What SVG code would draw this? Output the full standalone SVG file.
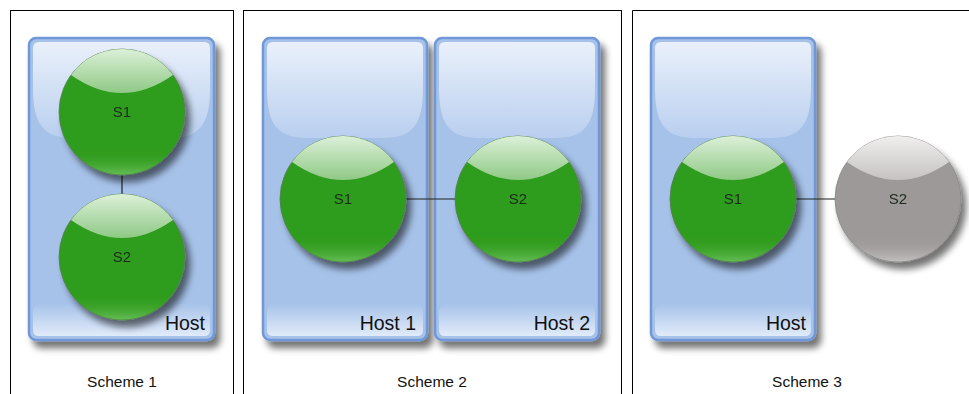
<svg xmlns="http://www.w3.org/2000/svg" xmlns:xlink="http://www.w3.org/1999/xlink" width="969" height="394" viewBox="0 0 969 394">
  <style>
    .frame { fill: none; stroke: #000; stroke-width: 1; }
    .caption { font-family: "Liberation Sans", Arial, sans-serif; font-size: 15.5px; fill: #111; text-anchor: middle; }
    .hostlabel { font-family: "Liberation Sans", Arial, sans-serif; font-size: 19.5px; fill: #111; text-anchor: end; }
    .slabel { font-family: "Liberation Sans", Arial, sans-serif; font-size: 15px; fill: #1e2a1c; text-anchor: middle; }
    .link { stroke: #222; stroke-width: 1.2; fill: none; }
    .hostbody { fill: #a6c2e9; stroke: #6f98d8; stroke-width: 2.5; }
  </style>
  <defs>
    <filter id="shadow" x="-20%" y="-20%" width="150%" height="150%">
      <feGaussianBlur in="SourceAlpha" stdDeviation="3.5"/>
      <feOffset dx="5" dy="7" result="b"/>
      <feComponentTransfer><feFuncA type="linear" slope="0.55"/></feComponentTransfer>
      <feMerge><feMergeNode/><feMergeNode in="SourceGraphic"/></feMerge>
    </filter>
    <linearGradient id="glassTop" x1="0" y1="0" x2="0" y2="1">
      <stop offset="0" stop-color="#e9f0fa"/>
      <stop offset="1" stop-color="#b9cfef"/>
    </linearGradient>
    <linearGradient id="glassBottom" x1="0" y1="0" x2="0" y2="1">
      <stop offset="0" stop-color="#e4edfa" stop-opacity="0"/>
      <stop offset="1" stop-color="#e4edfa" stop-opacity="0.95"/>
    </linearGradient>
    <linearGradient id="capGreen" x1="0" y1="0" x2="0" y2="1">
      <stop offset="0" stop-color="#dcf0d8"/>
      <stop offset="1" stop-color="#8fc985"/>
    </linearGradient>
    <linearGradient id="capGrey" x1="0" y1="0" x2="0" y2="1">
      <stop offset="0" stop-color="#f0eeee"/>
      <stop offset="1" stop-color="#c6c2c2"/>
    </linearGradient>
    <linearGradient id="glowGreen" x1="0" y1="0" x2="0" y2="1">
      <stop offset="0.8" stop-color="#2f9c1d" stop-opacity="0"/>
      <stop offset="1" stop-color="#72c462" stop-opacity="0.8"/>
    </linearGradient>
    <linearGradient id="glowGrey" x1="0" y1="0" x2="0" y2="1">
      <stop offset="0.8" stop-color="#9d9999" stop-opacity="0"/>
      <stop offset="1" stop-color="#cbc8c8" stop-opacity="0.8"/>
    </linearGradient>

    <!-- glossy host containers, 164 / 185 wide, 302 high -->
    <g id="hostShape">
      <rect class="hostbody" x="0" y="0" width="164" height="302" rx="7"/>
      <path d="M4,10 Q4,4 10,4 H154 Q160,4 160,10 V50 C160,86 150,100 120,100 H44 C14,100 4,86 4,50 Z" fill="url(#glassTop)"/>
      <path d="M4,274 Q4,265 14,265 H150 Q160,265 160,274 V292 Q160,298 154,298 H10 Q4,298 4,292 Z" fill="url(#glassBottom)"/>
    </g>
    <g id="hostShapeWide">
      <rect class="hostbody" x="0" y="0" width="185" height="302" rx="7"/>
      <path d="M4,10 Q4,4 10,4 H175 Q181,4 181,10 V50 C181,86 171,100 141,100 H44 C14,100 4,86 4,50 Z" fill="url(#glassTop)"/>
      <path d="M4,274 Q4,265 14,265 H171 Q181,265 181,274 V292 Q181,298 175,298 H10 Q4,298 4,292 Z" fill="url(#glassBottom)"/>
    </g>

    <!-- glossy spheres centred on the origin -->
    <g id="sphereGreen">
      <circle r="63" fill="#2f9c1d" stroke="#5a7f52" stroke-width="0.8"/>
      <circle r="62.5" fill="url(#glowGreen)"/>
      <path d="M-51,-37 Q0,-1 51,-37 A63,63 0 0 0 -51,-37 Z" fill="url(#capGreen)"/>
    </g>
    <g id="sphereGrey">
      <circle r="63" fill="#9d9999" stroke="#8a8686" stroke-width="0.8"/>
      <circle r="62.5" fill="url(#glowGrey)"/>
      <path d="M-51,-37 Q0,-1 51,-37 A63,63 0 0 0 -51,-37 Z" fill="url(#capGrey)"/>
    </g>
  </defs>

  <rect width="969" height="394" fill="#fff"/>

  <!-- panel frames -->
  <g id="frames">
    <rect class="frame" x="10.5" y="10.5" width="223" height="400"/>
    <rect class="frame" x="243.5" y="10.5" width="378" height="400"/>
    <path class="frame" d="M632.5,410 V10.5 H975"/>
  </g>

  <!-- hosts -->
  <g id="host-scheme1" filter="url(#shadow)">
    <use xlink:href="#hostShapeWide" x="29" y="38"/>
  </g>
  <g id="host1-scheme2" filter="url(#shadow)">
    <use xlink:href="#hostShape" x="263" y="38"/>
  </g>
  <g id="host2-scheme2" filter="url(#shadow)">
    <use xlink:href="#hostShape" x="435" y="38"/>
  </g>
  <g id="host-scheme3" filter="url(#shadow)">
    <use xlink:href="#hostShape" x="651" y="38"/>
  </g>

  <!-- connectors -->
  <g id="connectors">
    <line class="link" x1="122" y1="175" x2="122" y2="195"/>
    <line class="link" x1="405" y1="199" x2="456" y2="199"/>
    <line class="link" x1="795" y1="199" x2="836" y2="199"/>
  </g>

  <!-- services -->
  <g id="s1-scheme1" filter="url(#shadow)">
    <use xlink:href="#sphereGreen" transform="translate(122,112)"/>
    <text class="slabel" x="122" y="117">S1</text>
  </g>
  <g id="s2-scheme1" filter="url(#shadow)">
    <use xlink:href="#sphereGreen" transform="translate(122,257)"/>
    <text class="slabel" x="122" y="262">S2</text>
  </g>
  <g id="s1-scheme2" filter="url(#shadow)">
    <use xlink:href="#sphereGreen" transform="translate(343,199)"/>
    <text class="slabel" x="343" y="204">S1</text>
  </g>
  <g id="s2-scheme2" filter="url(#shadow)">
    <use xlink:href="#sphereGreen" transform="translate(518,199)"/>
    <text class="slabel" x="518" y="204">S2</text>
  </g>
  <g id="s1-scheme3" filter="url(#shadow)">
    <use xlink:href="#sphereGreen" transform="translate(733,199)"/>
    <text class="slabel" x="733" y="204">S1</text>
  </g>
  <g id="s2-scheme3" filter="url(#shadow)">
    <use xlink:href="#sphereGrey" transform="translate(898,199)"/>
    <text class="slabel" x="898" y="204">S2</text>
  </g>

  <!-- host labels -->
  <g id="host-labels">
    <text class="hostlabel" x="205" y="330">Host</text>
    <text class="hostlabel" x="416" y="330">Host 1</text>
    <text class="hostlabel" x="590" y="330">Host 2</text>
    <text class="hostlabel" x="806" y="330">Host</text>
  </g>

  <!-- captions -->
  <g id="captions">
    <text class="caption" x="122" y="387">Scheme 1</text>
    <text class="caption" x="432" y="387">Scheme 2</text>
    <text class="caption" x="807" y="387">Scheme 3</text>
  </g>
</svg>
